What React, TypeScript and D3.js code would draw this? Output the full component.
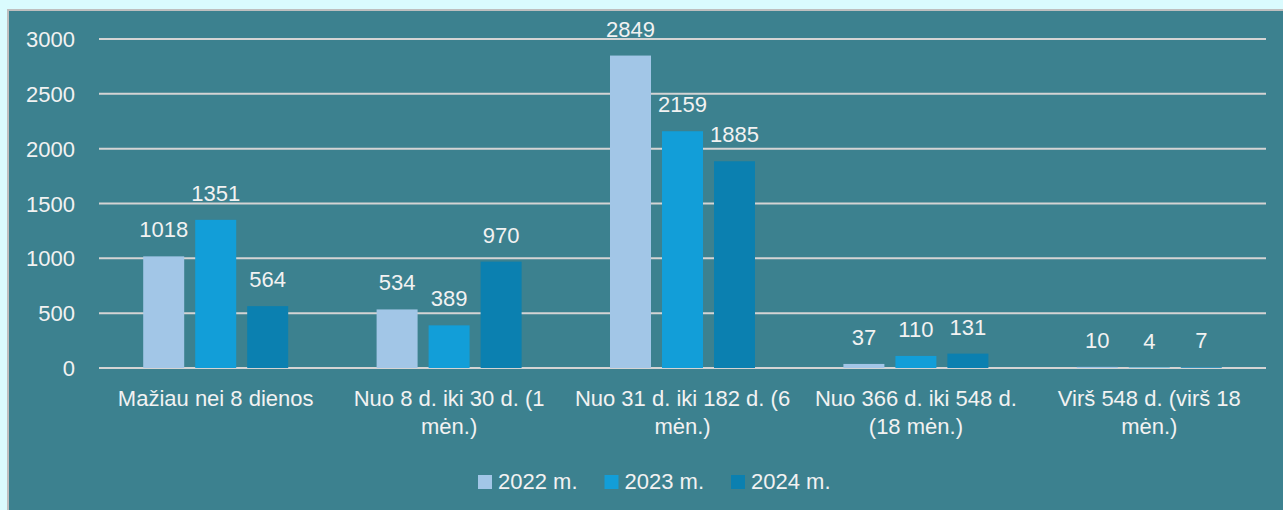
import React from "react";
import * as d3 from "d3";

const categories: string[] = [
  "Mažiau nei 8 dienos",
  "Nuo 8 d. iki 30 d. (1\nmėn.)",
  "Nuo 31 d. iki 182 d. (6\nmėn.)",
  "Nuo 366 d. iki 548 d.\n(18 mėn.)",
  "Virš 548 d. (virš 18\nmėn.)",
];
const seriesNames: string[] = ["2022 m.", "2023 m.", "2024 m."];
const values2022: number[] = [1018, 534, 2849, 37, 10];
const values2023: number[] = [1351, 389, 2159, 110, 4];
const values2024: number[] = [564, 970, 1885, 131, 7];
const seriesValues: number[][] = [values2022, values2023, values2024];
const yTicks: number[] = [0, 500, 1000, 1500, 2000, 2500, 3000];
const colors: string[] = ["#A2C6E7", "#129ED8", "#0B80B0"];

const W = 1283;
const H = 510;
const FONT = "'Liberation Sans', Arial, sans-serif";
const FS = 22;
const TEXT = "#F2F2F2";

export default function App() {
  const plotLeft = 99;
  const plotRight = 1266;
  const x0 = d3.scaleBand<number>().domain(d3.range(categories.length)).range([plotLeft, plotRight]).padding(0);
  const x1 = d3
    .scaleBand<number>()
    .domain(d3.range(seriesNames.length))
    .range([-78, 78])
    .paddingInner(11 / 52)
    .paddingOuter(11 / 104);
  const y = d3.scaleLinear().domain([0, 3000]).range([368, 39]);

  const legendStart = 478;
  const legendStep = 126.5;

  return (
    <div style={{ position: "fixed", left: 0, top: 0, width: W, height: H, background: "#DAFBFE" }}>
      <svg width={W} height={H} style={{ display: "block" }}>
        <rect x={8} y={10} width={W + 20} height={H + 20} fill="#3C818F" stroke="#BFBFBF" strokeWidth={2} />
        {yTicks.map((t) => (
          <g key={t}>
            <line x1={plotLeft} x2={plotRight} y1={y(t)} y2={y(t)} stroke="#D4D4D4" strokeWidth={2} />
            <text x={75} y={y(t) + 8} textAnchor="end" fontFamily={FONT} fontSize={FS} fill={TEXT}>
              {t}
            </text>
          </g>
        ))}
        {categories.map((c, ci) => {
          const cx = (x0(ci) as number) + x0.bandwidth() / 2;
          return (
            <g key={c}>
              {seriesValues.map((vals, si) => {
                const v = vals[ci];
                const bx = cx + (x1(si) as number);
                return (
                  <g key={si}>
                    <rect x={bx} y={y(v)} width={x1.bandwidth()} height={y(0) - y(v)} fill={colors[si]} />
                    <text
                      x={bx + x1.bandwidth() / 2}
                      y={y(v) - 19}
                      textAnchor="middle"
                      fontFamily={FONT}
                      fontSize={FS}
                      fill={TEXT}
                    >
                      {v}
                    </text>
                  </g>
                );
              })}
              {c.split("\n").map((line, li) => (
                <text
                  key={li}
                  x={cx}
                  y={406 + li * 28}
                  textAnchor="middle"
                  fontFamily={FONT}
                  fontSize={FS}
                  fill={TEXT}
                >
                  {line}
                </text>
              ))}
            </g>
          );
        })}
        {seriesNames.map((s, si) => {
          const lx = legendStart + si * legendStep;
          return (
            <g key={s}>
              <rect x={lx} y={475} width={14} height={14} fill={colors[si]} />
              <text x={lx + 20} y={489} fontFamily={FONT} fontSize={FS} fill={TEXT}>
                {s}
              </text>
            </g>
          );
        })}
      </svg>
    </div>
  );
}
